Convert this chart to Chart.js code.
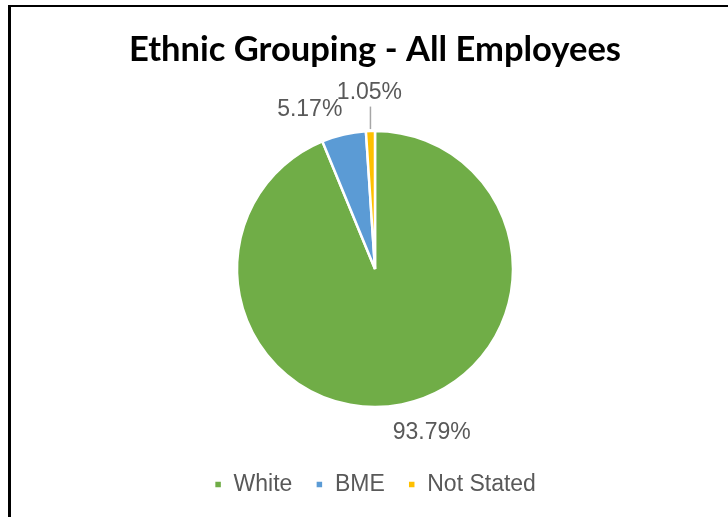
<!DOCTYPE html>
<html>
<head>
<meta charset="utf-8">
<script src="https://cdn.jsdelivr.net/npm/chart.js@4"></script>
<style>
  html, body { margin: 0; padding: 0; background: #fff; }
  #wrap { width: 728px; height: 517px; position: relative; }
</style>
</head>
<body>
<div id="wrap"><canvas id="ethnicChart" width="728" height="517"></canvas></div>
<script>
// chart data
const TITLE = "Ethnic Grouping - All Employees";
const categories = ["White", "BME", "Not Stated"];
const percentages = [93.79, 5.17, 1.05];
const sliceColours = ["#70AD47", "#5B9BD5", "#FFC000"];

// frame line along the top and left edge, like the cropped excel box
const framePlugin = {
  id: "frame",
  beforeDraw(chart) {
    const ctx = chart.ctx;
    ctx.save();
    ctx.fillStyle = "#fff";
    ctx.fillRect(0, 0, chart.width, chart.height);
    ctx.fillStyle = "#000";
    ctx.fillRect(8, 5, 3, chart.height - 5);
    ctx.fillRect(8, 5, chart.width - 8, 2);
    ctx.restore();
  }
};

// title drawn by hand so it can be squeezed to the Calibri width
const titlePlugin = {
  id: "squeezedTitle",
  afterDraw(chart, args, opts) {
    const ctx = chart.ctx;
    ctx.save();
    ctx.font = "bold " + opts.size + "px Lato, 'Open Sans', sans-serif";
    ctx.fillStyle = "#000";
    ctx.textBaseline = "alphabetic";
    const w = ctx.measureText(opts.text).width;
    const sx = opts.width / w;
    ctx.translate(opts.x, opts.y);
    ctx.scale(sx, 1);
    ctx.textAlign = "center";
    ctx.fillText(opts.text, 0, 0);
    ctx.restore();
  }
};

// percentage labels placed outside the slices
const labelPlugin = {
  id: "sliceLabels",
  afterDatasetsDraw(chart, args, opts) {
    const ctx = chart.ctx;
    const meta = chart.getDatasetMeta(0);
    ctx.save();
    ctx.font = opts.size + "px 'Liberation Sans', Arial, sans-serif";
    ctx.fillStyle = "#595959";
    ctx.textAlign = "center";
    ctx.textBaseline = "middle";
    meta.data.forEach((arc, i) => {
      const p = arc.getProps(["x", "y", "startAngle", "endAngle", "outerRadius"], true);
      const mid = (p.startAngle + p.endAngle) / 2;
      const ax = p.x + Math.cos(mid) * p.outerRadius;
      const ay = p.y + Math.sin(mid) * p.outerRadius;
      const n = opts.nudge[i] || { dx: 0, dy: 0 };
      const lx = ax + n.dx;
      const ly = ay + n.dy;
      if (n.leader) {
        ctx.strokeStyle = "#a6a6a6";
        ctx.lineWidth = 1.5;
        ctx.beginPath();
        ctx.moveTo(ax, ay - 2);
        ctx.lineTo(ax, ly + 14);
        ctx.stroke();
      }
      const value = chart.data.datasets[0].data[i];
      ctx.fillText(value.toFixed(2) + "%", lx, ly);
    });
    ctx.restore();
  }
};

new Chart(document.getElementById("ethnicChart"), {
  type: "pie",
  data: {
    labels: categories,
    datasets: [{
      data: percentages,
      backgroundColor: sliceColours,
      borderColor: "#fff",
      borderWidth: 2.5,
      radius: 138
    }]
  },
  options: {
    responsive: false,
    animation: false,
    layout: { padding: { top: 88, left: 22, right: 0, bottom: 11 } },
    plugins: {
      title: { display: false },
      tooltip: { enabled: false },
      legend: {
        position: "bottom",
        labels: {
          boxWidth: 8,
          boxHeight: 8,
          padding: 23,
          color: "#595959",
          font: { family: "'Liberation Sans', Arial, sans-serif", size: 23 }
        }
      },
      squeezedTitle: { text: TITLE, size: 35, width: 492, x: 375, y: 61 },
      sliceLabels: {
        size: 23,
        nudge: [
          { dx: 30, dy: 28 },
          { dx: -34, dy: -25 },
          { dx: -1, dy: -38.5, leader: true }
        ]
      }
    }
  },
  plugins: [framePlugin, titlePlugin, labelPlugin]
});
</script>
</body>
</html>
